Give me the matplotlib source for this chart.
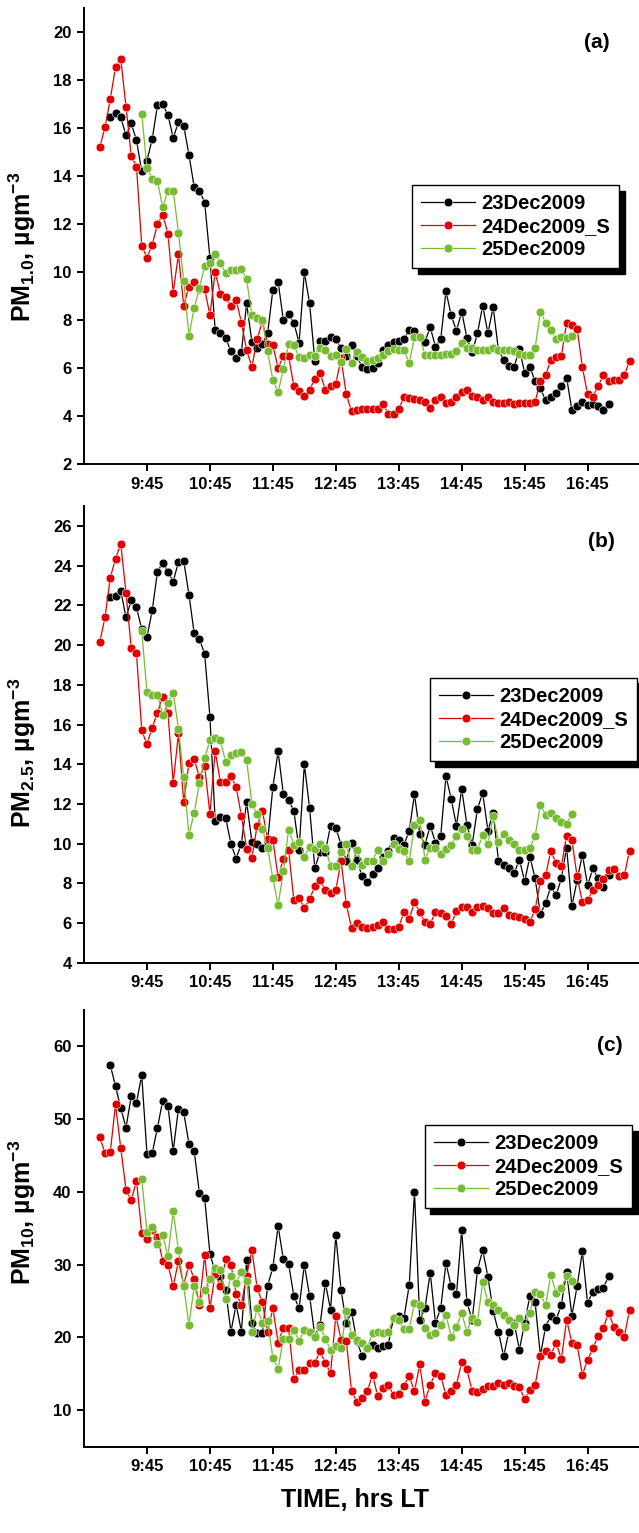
import numpy as np
import matplotlib.pyplot as plt

plt.rcParams['font.family'] = ['Liberation Sans', 'DejaVu Sans']
plt.rcParams['font.weight'] = 'bold'
plt.rcParams['mathtext.fontset'] = 'custom'
plt.rcParams['mathtext.rm'] = 'Liberation Sans:bold'
plt.rcParams['mathtext.default'] = 'rm'


def to_min(s):
    h, m = s.split(':')
    return int(h) * 60 + int(m)


# sampling: one reading every 5 minutes, starting at these local times
step = 5
start_23 = '9:10'
start_24 = '9:00'
start_25 = '9:40'

labels = ['23Dec2009', '24Dec2009_S', '25Dec2009']
colors = ['black', '#e00000', '#77bb33']
xtick_labels = ['9:45', '10:45', '11:45', '12:45', '13:45', '14:45', '15:45', '16:45']

# PM1.0
pm1_23 = [16.45, 16.65, 16.45, 15.7, 16.2, 15.5, 14.2, 14.65, 15.55, 16.95,
          17.0, 16.55, 15.6, 16.25, 16.1, 14.9, 13.55, 13.4, 12.9, 10.6,
          7.6, 7.45, 7.25, 6.7, 6.4, 6.65, 8.7, 7.1, 6.85, 7.0,
          7.45, 9.25, 9.6, 8.0, 8.25, 7.9, 7.05, 10.0, 8.7, 6.3,
          7.15, 7.15, 7.3, 7.2, 6.85, 6.5, 6.95, 6.5, 6.05, 5.95,
          6.0, 6.2, 6.75, 6.95, 7.1, 7.15, 7.2, 7.6, 7.55, 7.3,
          7.1, 7.7, 6.9, 7.2, 9.2, 8.2, 7.55, 8.35, 7.25, 6.65,
          7.45, 8.6, 7.45, 8.55, 6.75, 6.35, 6.1, 6.05, 6.8, 5.8,
          6.05, 5.45, 5.15, 4.65, 4.8, 4.95, 5.25, 5.6, 4.25, 4.4,
          4.6, 4.45, 4.5, 4.4, 4.25, 4.5]
pm1_24 = [15.2, 16.05, 17.2, 18.55, 18.9, 16.9, 14.85, 14.4, 11.1, 10.6,
          11.15, 12.0, 12.4, 11.6, 9.15, 10.75, 8.6, 9.4, 9.6, 9.3,
          9.3, 8.2, 10.0, 9.1, 8.95, 8.6, 8.85, 7.9, 6.75, 6.05,
          7.2, 7.95, 7.0, 6.95, 6.0, 6.5, 6.5, 5.25, 5.05, 4.85,
          5.1, 5.55, 5.8, 5.1, 5.25, 5.35, 6.4, 4.9, 4.2, 4.25,
          4.3, 4.3, 4.3, 4.3, 4.5, 4.1, 4.1, 4.3, 4.8, 4.75,
          4.7, 4.65, 4.6, 4.35, 4.65, 4.8, 4.55, 4.6, 4.8, 5.0,
          5.1, 4.85, 4.8, 4.65, 4.8, 4.6, 4.55, 4.55, 4.6, 4.5,
          4.55, 4.55, 4.55, 4.6, 5.45, 5.7, 6.35, 6.45, 6.5, 7.9,
          7.8, 7.65, 6.05, 4.9, 4.8, 5.25, 5.7, 5.45, 5.5, 5.5,
          5.7, 6.3]
pm1_25 = [16.6, 14.35, 13.9, 13.8, 12.7, 13.4, 13.4, 11.65, 9.65, 7.35,
          8.5, 9.35, 10.25, 10.4, 10.75, 10.4, 9.95, 10.1, 10.1, 10.15,
          9.7, 8.2, 8.1, 8.0, 6.7, 5.5, 5.0, 5.95, 7.0, 6.95,
          6.45, 6.4, 6.55, 6.5, 6.85, 6.75, 6.5, 6.55, 6.25, 6.8,
          6.2, 6.65, 6.45, 6.3, 6.35, 6.4, 6.55, 6.7, 6.8, 6.75,
          6.75, 6.2, 7.3, 7.3, 6.55, 6.55, 6.55, 6.55, 6.6, 6.6,
          6.7, 7.05, 6.85, 6.85, 6.75, 6.75, 6.75, 6.85, 6.75, 6.75,
          6.75, 6.7, 6.6, 6.55, 6.55, 6.85, 8.35, 7.9, 7.6, 7.2,
          7.3, 7.25, 7.35]

# PM2.5
pm25_23 = [22.45, 22.5, 22.75, 21.4, 22.25, 21.9, 20.8, 20.4, 21.75, 23.7,
           24.15, 23.7, 23.2, 24.2, 24.25, 22.55, 20.6, 20.3, 19.55, 16.4,
           11.15, 11.35, 11.3, 10.0, 9.25, 10.0, 12.1, 10.1, 10.0, 9.8,
           10.1, 12.85, 14.65, 12.5, 12.2, 11.65, 9.7, 14.0, 11.8, 8.75,
           9.6, 9.6, 10.9, 10.8, 9.95, 9.15, 10.05, 9.2, 8.35, 8.05,
           8.45, 8.75, 9.35, 9.65, 10.3, 10.2, 9.95, 10.65, 12.5, 10.5,
           9.95, 10.9, 10.05, 10.4, 13.4, 12.25, 10.9, 12.75, 10.95, 9.95,
           11.75, 12.55, 10.65, 11.55, 9.15, 8.9, 8.75, 8.5, 9.2, 8.1,
           9.35, 8.25, 6.45, 7.0, 7.85, 7.4, 8.25, 9.8, 6.85, 8.15,
           9.45, 7.9, 8.75, 8.25, 7.8, 8.4]
pm25_24 = [20.15, 21.4, 23.4, 24.35, 25.1, 22.65, 19.85, 19.6, 15.7, 15.0,
           15.85, 16.6, 17.4, 16.6, 13.05, 15.55, 12.1, 14.05, 14.25, 13.35,
           13.9, 11.5, 14.65, 13.1, 13.1, 13.4, 12.85, 11.4, 9.75, 9.3,
           10.9, 11.65, 10.25, 10.2, 8.3, 9.25, 9.7, 7.15, 7.25, 6.75,
           7.2, 7.85, 8.15, 7.65, 7.5, 7.65, 9.15, 6.95, 5.75, 6.0,
           5.8, 5.75, 5.8, 5.9, 6.05, 5.7, 5.7, 5.8, 6.55, 6.2,
           7.05, 6.55, 6.05, 5.95, 6.55, 6.5, 6.35, 5.95, 6.6, 6.8,
           6.8, 6.55, 6.8, 6.85, 6.75, 6.5, 6.5, 6.75, 6.4, 6.35,
           6.3, 6.2, 6.05, 6.7, 8.1, 8.4, 9.65, 9.0, 8.85, 10.4,
           10.2, 8.35, 7.05, 7.15, 7.65, 7.9, 8.2, 8.65, 8.7, 8.35,
           8.4, 9.65]
pm25_25 = [20.7, 17.65, 17.5, 17.5, 16.5, 17.1, 17.6, 15.8, 13.35, 10.45,
           11.55, 13.05, 14.3, 15.2, 15.3, 15.2, 14.1, 14.45, 14.55, 14.6,
           14.2, 12.0, 11.5, 10.75, 9.8, 8.25, 6.9, 8.6, 10.7, 9.95,
           10.1, 9.35, 9.85, 9.75, 10.0, 9.8, 8.85, 8.85, 9.6, 10.0,
           8.85, 9.7, 8.9, 9.1, 9.15, 9.7, 9.15, 9.5, 10.0, 9.75,
           9.65, 9.1, 10.95, 11.2, 9.2, 9.8, 9.8, 9.5, 9.75, 9.95,
           10.4, 10.75, 10.4, 9.7, 9.7, 10.45, 10.0, 11.4, 10.1, 10.5,
           10.2, 10.0, 9.7, 9.7, 9.8, 10.4, 11.95, 11.45, 11.55, 11.3,
           11.1, 11.0, 11.5]

# PM10
pm10_23 = [57.4, 54.5, 51.5, 48.8, 53.1, 52.2, 56.0, 45.2, 45.3, 48.8,
           52.5, 51.8, 45.6, 51.4, 50.9, 46.6, 45.6, 39.8, 39.1, 31.5,
           29.0, 28.5, 26.5, 20.8, 24.5, 20.8, 30.6, 22.0, 20.6, 20.6,
           27.1, 29.6, 35.3, 30.7, 30.1, 25.7, 24.0, 30.0, 25.7, 20.2,
           21.7, 27.5, 23.8, 34.0, 26.5, 22.0, 23.5, 19.5, 17.5, 18.5,
           19.0, 18.5, 18.8, 19.0, 22.7, 22.9, 22.7, 27.2, 40.0, 22.4,
           24.0, 28.9, 22.0, 24.0, 30.2, 27.0, 25.9, 34.7, 24.8, 22.4,
           29.2, 32.0, 28.3, 23.6, 20.8, 17.4, 20.8, 22.0, 18.3, 22.0,
           25.7, 24.8, 17.5, 21.5, 23.0, 22.4, 24.5, 29.0, 23.0, 27.0,
           31.8, 24.7, 26.3, 26.6, 26.8, 28.4]
pm10_24 = [47.5, 45.3, 45.4, 52.0, 46.0, 40.3, 38.8, 41.5, 34.4, 33.5,
           34.8, 33.8, 30.5, 30.0, 27.0, 30.5, 27.2, 30.0, 28.0, 24.5,
           31.3, 24.0, 28.7, 27.0, 30.7, 30.0, 26.0, 24.5, 28.5, 32.0,
           26.8, 24.8, 20.8, 24.0, 19.3, 21.3, 21.3, 14.3, 15.5, 15.5,
           16.5, 16.5, 18.1, 16.5, 15.1, 23.0, 19.7, 19.5, 12.6, 11.2,
           11.7, 12.6, 14.9, 11.9, 13.1, 13.5, 12.1, 12.3, 13.4, 14.7,
           12.6, 16.3, 11.2, 13.5, 15.1, 14.7, 12.1, 12.6, 13.5, 16.6,
           15.6, 12.6, 12.5, 12.9, 13.3, 13.4, 13.7, 13.5, 13.7, 13.4,
           13.2, 11.5, 12.8, 13.5, 17.4, 18.1, 17.6, 19.3, 17.0, 22.4,
           19.3, 19.0, 14.9, 16.9, 18.5, 20.2, 21.3, 23.4, 21.5, 20.7,
           20.1, 23.8]
pm10_25 = [41.8, 34.5, 35.2, 32.8, 34.0, 31.2, 37.3, 32.0, 27.0, 21.7,
           27.0, 24.8, 26.5, 28.0, 29.5, 29.3, 25.3, 28.5, 27.5, 29.0,
           27.8, 20.8, 24.0, 22.0, 22.2, 17.2, 15.7, 19.8, 19.8, 21.0,
           19.5, 21.0, 20.8, 20.1, 21.5, 19.8, 18.3, 18.8, 18.5, 23.6,
           20.4, 19.7, 19.2, 18.5, 20.6, 20.7, 20.6, 20.8, 22.7, 22.4,
           21.1, 21.2, 24.7, 24.5, 21.3, 20.4, 20.6, 21.7, 23.1, 20.1,
           21.5, 23.3, 20.8, 22.7, 22.1, 27.6, 24.9, 24.5, 23.8, 23.1,
           22.4, 21.7, 22.7, 21.5, 23.4, 26.3, 25.9, 24.5, 28.6, 26.1,
           26.8, 28.4, 27.7]

starts = [start_23, start_24, start_25]
panels = [
    dict(series=[pm1_23, pm1_24, pm1_25], ylim=(2, 21), yticks=range(2, 21, 2),
         ylabel='PM$_{1.0}$, µgm$^{-3}$', tag='(a)',
         rect=[0.1315, 0.6973, 0.8685, 0.2973], leg=(0.591, 0.612),
         tag_xy=(0.924, 0.924), ylab_y=0.476),
    dict(series=[pm25_23, pm25_24, pm25_25], ylim=(4, 27), yticks=range(4, 27, 2),
         ylabel='PM$_{2.5}$, µgm$^{-3}$', tag='(b)',
         rect=[0.1315, 0.3720, 0.8685, 0.2978], leg=(0.623, 0.624),
         tag_xy=(0.933, 0.922), ylab_y=0.46),
    dict(series=[pm10_23, pm10_24, pm10_25], ylim=(5, 65), yticks=range(10, 61, 10),
         ylabel='PM$_{10}$, µgm$^{-3}$', tag='(c)',
         rect=[0.1315, 0.0563, 0.8685, 0.2851], leg=(0.614, 0.736),
         tag_xy=(0.948, 0.919), ylab_y=0.537),
]

fig = plt.figure(figsize=(6.39, 15.33), dpi=100)

for p in panels:
    ax = fig.add_axes(p['rect'])
    for vals, start, lab, col in zip(p['series'], starts, labels, colors):
        t = to_min(start) + step * np.arange(len(vals))
        ax.plot(t, vals, '-o', color=col, lw=0.9, ms=6.3, mec='white', mew=0.4,
                label=lab)

    ax.set_xlim(525, 1054)
    ax.set_ylim(*p['ylim'])
    ax.set_xticks([to_min(s) for s in xtick_labels])
    ax.set_xticklabels(xtick_labels)
    ax.set_yticks(list(p['yticks']))
    for side in ['top', 'right']:
        ax.spines[side].set_visible(False)
    for side in ['left', 'bottom']:
        ax.spines[side].set_linewidth(1.4)
    ax.tick_params(direction='out', length=5, width=1.4, labelsize=12, pad=4)

    ax.set_ylabel(p['ylabel'], fontsize=18, fontweight='bold')
    ax.yaxis.set_label_coords(-0.083, p['ylab_y'])
    ax.text(p['tag_xy'][0], p['tag_xy'][1], p['tag'], transform=ax.transAxes,
            ha='center', va='center', fontsize=15, fontweight='bold')

    leg = ax.legend(loc='upper left', bbox_to_anchor=p['leg'], borderaxespad=0,
                    frameon=True, fancybox=False, edgecolor='black', framealpha=1,
                    handlelength=2.7, handletextpad=0.3, labelspacing=0.2,
                    borderpad=0.45, prop={'size': 14.5, 'weight': 'bold'},
                    shadow={'ox': 4, 'oy': -4, 'facecolor': 'black',
                            'edgecolor': 'black', 'alpha': 1})
    leg.get_frame().set_linewidth(1.0)

ax.set_xlabel('TIME, hrs LT', fontsize=18, fontweight='bold')
ax.xaxis.set_label_coords(0.488, -0.0945)

fig.savefig('out.png', dpi=100)
